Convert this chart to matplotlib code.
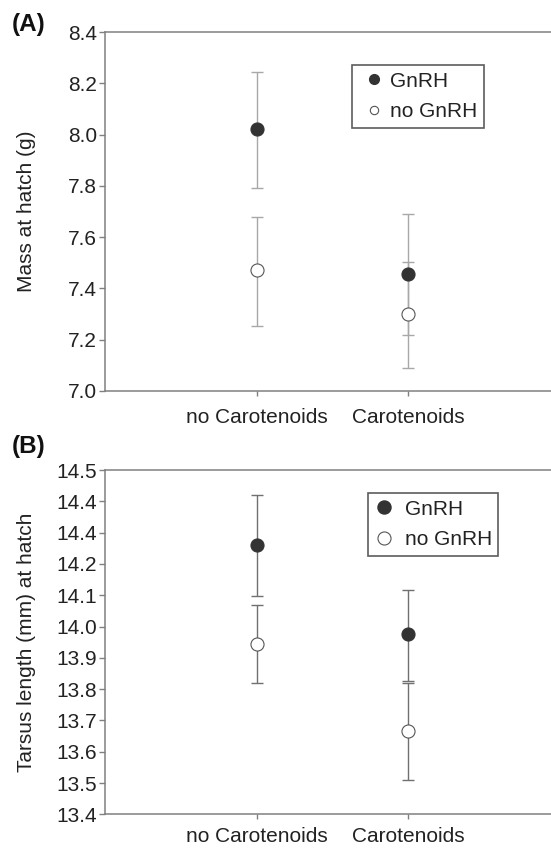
import matplotlib
matplotlib.use("Agg")
import matplotlib.pyplot as plt
from matplotlib.lines import Line2D
import numpy as np

plt.rcParams['font.family'] = ['Liberation Sans', 'DejaVu Sans']

categories = ["no Carotenoids", "Carotenoids"]
series = ["GnRH", "no GnRH"]

# Panel A: mass at hatch (g)
mass_gnrh = [8.02, 7.457]
mass_gnrh_lo = [7.79, 7.217]
mass_gnrh_hi = [8.244, 7.69]
mass_nognrh = [7.47, 7.302]
mass_nognrh_lo = [7.253, 7.088]
mass_nognrh_hi = [7.677, 7.505]
mass_ticks = [7.0, 7.2, 7.4, 7.6, 7.8, 8.0, 8.2, 8.4]
mass_ticklabels = ["7.0", "7.2", "7.4", "7.6", "7.8", "8.0", "8.2", "8.4"]

# Panel B: tarsus length (mm)
tars_gnrh = [14.26, 13.975]
tars_gnrh_lo = [14.096, 13.825]
tars_gnrh_hi = [14.419, 14.118]
tars_nognrh = [13.944, 13.666]
tars_nognrh_lo = [13.818, 13.51]
tars_nognrh_hi = [14.068, 13.82]
tars_ticks = [13.4, 13.5, 13.6, 13.7, 13.8, 13.9, 14.0, 14.1, 14.2, 14.3, 14.4, 14.5]
tars_ticklabels = ["13.4", "13.5", "13.6", "13.7", "13.8", "13.9", "14.0",
                   "14.1", "14.2", "14.4", "14.4", "14.5"]

W, H = 551, 849
fig = plt.figure(figsize=(W / 100, H / 100), dpi=100)

spine_col = "#808080"
dark = "#333333"
FS = 15

def px_axes(left, top, right, bottom):
    return fig.add_axes([left / W, 1 - bottom / H, (right - left) / W, (bottom - top) / H])

def draw(ax, g, glo, ghi, n, nlo, nhi, ticks, ticklabels, ylim, ylabel, errcol,
         leg_anchor, leg_ms, leg_hl, leg_htp, xpad):
    x = np.arange(1, len(categories) + 1)
    g = np.array(g); n = np.array(n)
    for vals, lo, hi, fc, ec in [(g, glo, ghi, dark, dark), (n, nlo, nhi, "white", "#555555")]:
        yerr = [vals - np.array(lo), np.array(hi) - vals]
        ax.errorbar(x, vals, yerr=yerr, fmt="none", ecolor=errcol, elinewidth=1.0,
                    capsize=4, capthick=1.0, zorder=2)
        ax.plot(x, vals, "o", ms=9.4, mfc=fc, mec=ec, mew=0.8, zorder=3, linestyle="none")
    ax.set_xlim(0, 3)
    ax.set_ylim(*ylim)
    ax.set_xticks(x)
    ax.set_xticklabels(categories, fontsize=FS, color="#222222")
    ax.set_yticks(ticks)
    ax.set_yticklabels(ticklabels, fontsize=FS, color="#222222")
    ax.tick_params(axis="y", length=4, width=1.0, color=spine_col, pad=2)
    ax.tick_params(axis="x", length=3.5, width=1.0, color=spine_col, pad=xpad)
    for s in ["left", "bottom", "top"]:
        ax.spines[s].set_color(spine_col)
        ax.spines[s].set_linewidth(1.1)
    ax.spines["right"].set_visible(False)
    ax.set_ylabel(ylabel, fontsize=FS, color="#222222")
    ax.yaxis.set_label_coords(-0.152, 0.5)
    handles = [Line2D([], [], marker="o", ls="none", ms=leg_ms[0], mfc=dark, mec=dark),
               Line2D([], [], marker="o", ls="none", ms=leg_ms[1], mfc="white", mec="#555555", mew=0.8)]
    leg = ax.legend(handles, series, loc="upper left", bbox_to_anchor=leg_anchor,
                    borderaxespad=0, fontsize=FS, fancybox=False, frameon=True,
                    borderpad=0.3, labelspacing=0.56, handlelength=leg_hl,
                    handletextpad=leg_htp)
    leg.get_frame().set_edgecolor("#333333")
    leg.get_frame().set_linewidth(1.2)
    for t in leg.get_texts():
        t.set_color("#222222")

axA = px_axes(105.4, 32, 559.6, 391)
draw(axA, mass_gnrh, mass_gnrh_lo, mass_gnrh_hi, mass_nognrh, mass_nognrh_lo, mass_nognrh_hi,
     mass_ticks, mass_ticklabels, (7.0, 8.4), "Mass at hatch (g)", "#a8a8a8",
     (0.542, 0.907), (7, 6), 1.55, 0.0, 9)

axB = px_axes(105.4, 470, 559.6, 814.3)
draw(axB, tars_gnrh, tars_gnrh_lo, tars_gnrh_hi, tars_nognrh, tars_nognrh_lo, tars_nognrh_hi,
     tars_ticks, tars_ticklabels, (13.4, 14.5), "Tarsus length (mm) at hatch", "#707070",
     (0.5786, 0.932), (9.4, 9.4), 0.92, 0.54, 5.5)

fig.text(12 / W, 1 - 24.5 / H, "(A)", fontsize=17.5, fontweight="bold", va="center", ha="left",
         color="#111111")
fig.text(12 / W, 1 - 446.7 / H, "(B)", fontsize=17.5, fontweight="bold", va="center", ha="left",
         color="#111111")

fig.savefig("out.png", dpi=100)
